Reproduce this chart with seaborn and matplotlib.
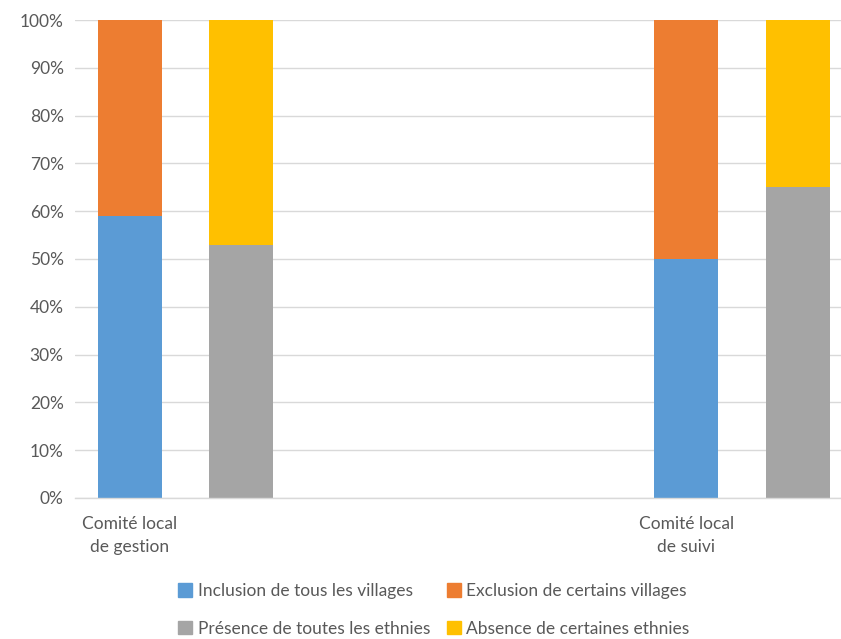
import matplotlib
matplotlib.use("Agg")
import matplotlib.pyplot as plt
import pandas as pd
import seaborn as sns
from matplotlib.patches import Patch
from matplotlib.ticker import PercentFormatter

# Data (percentages)
groups = ["Comité local\nde gestion", "Comité local\nde suivi"]
villages_in = [59, 50]      # Inclusion de tous les villages
villages_out = [41, 50]     # Exclusion de certains villages
ethnies_in = [53, 65]       # Présence de toutes les ethnies
ethnies_out = [47, 35]      # Absence de certaines ethnies

series = ["Inclusion de tous les villages", "Exclusion de certains villages",
          "Présence de toutes les ethnies", "Absence de certaines ethnies"]
colors = ["#5B9BD5", "#ED7D31", "#A5A5A5", "#FFC000"]

sns.set_theme(style="whitegrid")
plt.rcParams["font.family"] = ["Lato", "DejaVu Sans"]

# slot positions: each group takes two bars, groups spaced 5 slots apart
pos_v = [g * 5 for g in range(len(groups))]
pos_e = [g * 5 + 1 for g in range(len(groups))]

df_top = pd.DataFrame({
    "x": pos_v + pos_e,
    "value": [a + b for a, b in zip(villages_in, villages_out)] + [a + b for a, b in zip(ethnies_in, ethnies_out)],
    "serie": [series[1]] * len(groups) + [series[3]] * len(groups),
})
df_bottom = pd.DataFrame({
    "x": pos_v + pos_e,
    "value": villages_in + ethnies_in,
    "serie": [series[0]] * len(groups) + [series[2]] * len(groups),
})

fig = plt.figure(figsize=(8.41, 6.39), dpi=100)
ax = fig.add_axes([0.089, 0.2207, 0.911, 0.748])

# stacked bars: draw the full bar first, then the lower segment on top
sns.barplot(data=df_top, x="x", y="value", hue="serie", palette=[colors[1], colors[3]],
            native_scale=True, width=0.575, dodge=False, legend=False, ax=ax,
            saturation=1, linewidth=0)
sns.barplot(data=df_bottom, x="x", y="value", hue="serie", palette=[colors[0], colors[2]],
            native_scale=True, width=0.575, dodge=False, legend=False, ax=ax,
            saturation=1, linewidth=0)

ax.set_xlim(-0.494, 6.39)
ax.set_ylim(0, 100)
ax.set_yticks(range(0, 101, 10))
ax.yaxis.set_major_formatter(PercentFormatter(decimals=0))
ax.set_xticks(pos_v)
ax.set_xticklabels(groups, linespacing=1.5)
ax.set_xlabel("")
ax.set_ylabel("")
ax.tick_params(axis="both", length=0, labelsize=12.5, labelcolor="#595959")
ax.tick_params(axis="x", pad=13)
ax.tick_params(axis="y", pad=8)
ax.grid(axis="y", color="#D9D9D9", linewidth=1)
ax.grid(axis="x", visible=False)
ax.set_axisbelow(True)
for side in ["left", "right", "top"]:
    ax.spines[side].set_visible(False)
ax.spines["bottom"].set_color("#D9D9D9")
ax.spines["bottom"].set_linewidth(1)

handles = [Patch(color=colors[i], label=series[i]) for i in [0, 2, 1, 3]]
fig.legend(handles=handles, ncol=2, loc="center", bbox_to_anchor=(434 / 841, 1 - 610 / 639),
           frameon=False, fontsize=12.5, labelcolor="#595959", handlelength=0.8, handleheight=0.8,
           handletextpad=0.3, columnspacing=1.0, labelspacing=1.25)

fig.savefig("out.png", dpi=100)
